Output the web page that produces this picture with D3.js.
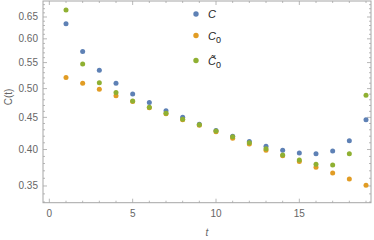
<!DOCTYPE html>
<html>
<head>
<meta charset="utf-8">
<script src="https://cdn.jsdelivr.net/npm/d3@7"></script>
<style>
  body { margin: 0; background: #fff; }
  svg { display: block; font-family: "Liberation Sans", Arial, sans-serif; }
</style>
</head>
<body>
<svg id="chart" width="374" height="240"></svg>
<script>
// time steps
let tValues = [1, 2, 3, 4, 5, 6, 7, 8, 9, 10, 11, 12, 13, 14, 15, 16, 17, 18, 19];
// C
let cValues = [0.634, 0.573, 0.535, 0.510, 0.490, 0.475, 0.461, 0.450, 0.439, 0.429, 0.420, 0.412, 0.405, 0.399, 0.395, 0.394, 0.398, 0.413, 0.446];
// C0
let c0Values = [0.521, 0.510, 0.499, 0.487, 0.477, 0.466, 0.456, 0.446, 0.437, 0.427, 0.417, 0.408, 0.399, 0.391, 0.383, 0.375, 0.367, 0.359, 0.351];
// C~0
let ct0Values = [0.667, 0.547, 0.511, 0.493, 0.478, 0.467, 0.457, 0.447, 0.438, 0.428, 0.419, 0.410, 0.401, 0.392, 0.385, 0.379, 0.378, 0.394, 0.488];

let xTicks = [0, 5, 10, 15];
let yTicks = [0.35, 0.40, 0.45, 0.50, 0.55, 0.60, 0.65];

let seriesNames = ['C', 'C0', 'Ct0'];
let seriesColors = ['#5e81b5', '#e19c24', '#8fb032'];

let svg = d3.select('#chart');

let plotLeft = 43, plotRight = 371, plotTop = 1, plotBottom = 202.7;

let x = d3.scaleLinear().domain([-0.38, 19.3]).range([plotLeft, plotRight]);
let y = d3.scaleLog().domain([0.3292, 0.6892]).range([plotBottom, plotTop]);

let frameColor = '#a6a6a6';
let labelColor = '#666';

// 刻度：主刻度 + 次刻度，都朝内
let xMinor = d3.range(0, 20, 1);
let yMinor = d3.range(33, 69, 1).map(d => d / 100);

let axisGroup = svg.append('g');

// bottom / top ticks
xMinor.forEach(v => {
  let len = xTicks.includes(v) ? 4 : 2;
  axisGroup.append('line').attr('x1', x(v)).attr('x2', x(v)).attr('y1', plotBottom).attr('y2', plotBottom - len)
    .attr('stroke', frameColor).attr('stroke-width', 0.8);
  axisGroup.append('line').attr('x1', x(v)).attr('x2', x(v)).attr('y1', plotTop).attr('y2', plotTop + len)
    .attr('stroke', frameColor).attr('stroke-width', 0.8);
});
// left / right ticks
yMinor.forEach(v => {
  let major = yTicks.some(t => Math.abs(t - v) < 1e-9);
  let len = major ? 4 : 2;
  axisGroup.append('line').attr('x1', plotLeft).attr('x2', plotLeft + len).attr('y1', y(v)).attr('y2', y(v))
    .attr('stroke', frameColor).attr('stroke-width', 0.8);
  axisGroup.append('line').attr('x1', plotRight).attr('x2', plotRight - len).attr('y1', y(v)).attr('y2', y(v))
    .attr('stroke', frameColor).attr('stroke-width', 0.8);
});

// frame
axisGroup.append('rect')
  .attr('x', plotLeft).attr('y', plotTop)
  .attr('width', plotRight - plotLeft).attr('height', plotBottom - plotTop)
  .attr('fill', 'none').attr('stroke', frameColor).attr('stroke-width', 1);

// tick labels
axisGroup.selectAll('.xlabel').data(xTicks).join('text')
  .attr('class', 'xlabel')
  .attr('x', d => x(d)).attr('y', plotBottom + 14)
  .attr('text-anchor', 'middle')
  .attr('fill', labelColor).style('font-size', '10px')
  .text(d => d);

axisGroup.selectAll('.ylabel').data(yTicks).join('text')
  .attr('class', 'ylabel')
  .attr('x', plotLeft - 5).attr('y', d => y(d) + 3.5)
  .attr('text-anchor', 'end')
  .attr('fill', labelColor).style('font-size', '10px')
  .text(d => d.toFixed(2));

// axis titles
svg.append('text')
  .attr('x', 207).attr('y', 236)
  .attr('text-anchor', 'middle')
  .attr('fill', labelColor).style('font-size', '10px').style('font-style', 'italic')
  .text('t');

svg.append('text')
  .attr('transform', 'translate(12, 97) rotate(-90)')
  .attr('text-anchor', 'middle')
  .attr('fill', labelColor).style('font-size', '10px')
  .text('C(t)');

// points — 按 C, C0, C~0 的顺序画，绿色在最上面
let allSeries = [cValues, c0Values, ct0Values];
let pointGroup = svg.append('g');
allSeries.forEach((vals, i) => {
  pointGroup.append('g').selectAll('circle').data(tValues).join('circle')
    .attr('cx', d => x(d))
    .attr('cy', (d, j) => y(vals[j]))
    .attr('r', 2.5)
    .attr('fill', seriesColors[i]);
});

// legend
let legendY = [14, 35.5, 60.5];
let legend = svg.append('g');
seriesNames.forEach((name, i) => {
  legend.append('circle').attr('cx', 196).attr('cy', legendY[i]).attr('r', 2.7).attr('fill', seriesColors[i]);
  let txt = legend.append('text')
    .attr('x', 208).attr('y', legendY[i] + 4)
    .attr('fill', '#222').style('font-size', '11px').style('font-style', 'italic');
  if (name === 'C') {
    txt.text('C');
  } else {
    txt.append('tspan').text(name === 'Ct0' ? 'C\u0303' : 'C');
    txt.append('tspan').attr('dy', 3).style('font-size', '9px').style('font-style', 'normal').text('0');
  }
});
</script>
</body>
</html>
